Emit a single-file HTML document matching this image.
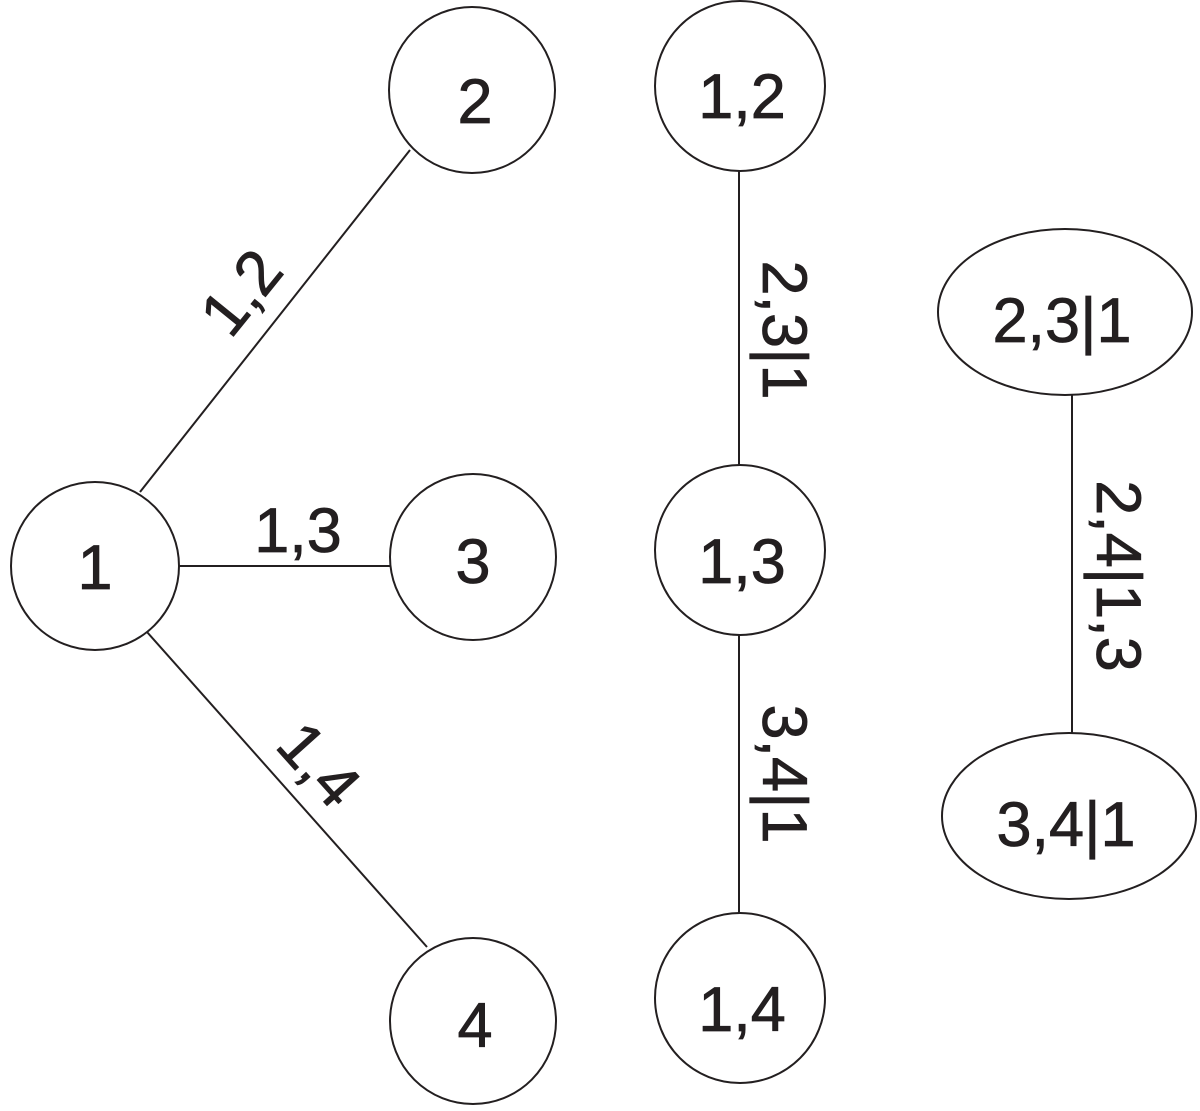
<!DOCTYPE html>
<html><head><meta charset="utf-8"><style>html,body{margin:0;padding:0;background:#fff}</style></head>
<body>
<svg width="1200" height="1106" viewBox="0 0 1200 1106" xmlns="http://www.w3.org/2000/svg">
<g fill="none" stroke="#231f20" stroke-width="2">
<circle cx="95" cy="566" r="84"/>
<circle cx="472" cy="90" r="83"/>
<circle cx="473" cy="557" r="83"/>
<circle cx="473" cy="1021" r="83"/>
<circle cx="740" cy="86" r="85"/>
<circle cx="740" cy="550" r="85"/>
<circle cx="740" cy="998" r="85"/>
<ellipse cx="1065" cy="312" rx="127" ry="83"/>
<ellipse cx="1069" cy="816" rx="127" ry="83"/>
<line x1="140" y1="492" x2="410" y2="150"/>
<line x1="179" y1="566" x2="390" y2="566"/>
<line x1="147" y1="632" x2="427" y2="947"/>
<line x1="739" y1="171" x2="739" y2="466"/>
<line x1="739" y1="635" x2="739" y2="913"/>
<line x1="1072" y1="395" x2="1072" y2="733"/>
</g>
<g font-family="Liberation Sans, sans-serif" font-size="63" fill="#231f20" text-anchor="middle" stroke="#231f20" stroke-width="0.8">
<text x="95" y="589">1</text>
<text x="475" y="123">2</text>
<text x="473" y="583">3</text>
<text x="475" y="1047">4</text>
<text x="742" y="118">1,2</text>
<text x="742" y="583">1,3</text>
<text x="742" y="1031">1,4</text>
<text x="1062" y="342">2,3|1</text>
<text x="1066" y="846">3,4|1</text>
<text x="298" y="552">1,3</text>
<text transform="translate(258,306) rotate(-51)">1,2</text>
<text transform="translate(303,779) rotate(48)">1,4</text>
<text transform="translate(763,330) rotate(90)">2,3|1</text>
<text transform="translate(763,774) rotate(90)">3,4|1</text>
<text transform="translate(1097,576) rotate(90)">2,4|1,3</text>
</g>
</svg>
</body></html>
